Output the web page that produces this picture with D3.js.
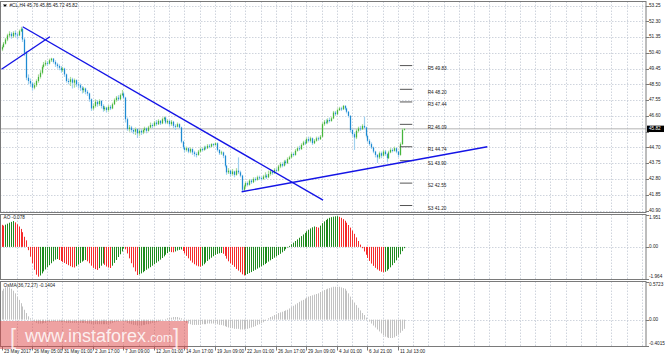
<!DOCTYPE html>
<html><head><meta charset="utf-8">
<script src="https://cdn.jsdelivr.net/npm/d3@7"></script>
<style>body{margin:0;background:#fff}svg{display:block}text{font-family:"Liberation Sans",Arial,sans-serif}</style>
</head><body><svg id="c" width="665" height="356"></svg>
<script>
const titleText = "#CL,H4 45.76 45.85 45.72 45.82";
const aoLabel = "AO -0.078";
const osmaLabel = "OsMA(36,72,27) -0.1404";
const firstOpen = 50.60;
const closes = [50.75,50.95,51.20,51.45,51.55,51.40,51.60,51.50,51.45,51.70,
51.85,51.20,50.40,48.90,48.70,48.55,48.30,48.45,48.70,48.95,
49.20,49.55,49.70,49.80,49.75,49.95,50.05,49.85,49.70,49.60,
49.50,49.35,49.45,49.10,48.70,48.65,48.80,48.60,48.75,48.50,
48.45,48.30,48.15,48.25,48.05,47.95,47.60,47.05,47.20,47.45,
47.30,47.50,47.20,47.00,47.10,46.95,47.15,47.05,47.30,47.55,
47.70,47.60,47.85,47.95,47.70,46.40,45.80,45.90,45.75,45.65,
45.80,45.55,45.70,45.60,45.75,45.85,45.70,45.90,46.05,46.00,
46.20,46.10,46.30,46.15,46.40,46.50,46.20,46.30,46.10,46.25,
46.00,45.95,46.10,45.90,45.05,44.70,44.55,44.65,44.45,44.60,
44.40,44.30,44.25,44.45,44.60,44.55,44.70,44.65,44.80,44.75,
44.90,44.85,44.95,44.55,44.35,44.40,44.20,43.60,43.20,43.30,
43.10,43.25,43.05,43.30,43.20,43.00,42.15,42.35,42.55,42.45,
42.70,42.60,42.80,42.75,42.90,42.85,42.80,42.95,43.00,42.90,
43.10,43.25,43.15,43.35,43.30,43.55,43.70,43.60,43.85,43.75,
44.00,44.10,44.30,44.25,44.50,44.65,44.60,44.85,45.00,44.95,
45.20,45.10,45.25,44.95,45.10,45.25,45.20,45.35,46.10,46.25,
46.20,46.35,46.30,46.45,46.80,46.70,46.95,47.05,47.00,47.20,
47.05,46.85,46.60,45.75,45.50,45.30,45.70,45.85,45.80,46.00,
45.90,45.40,45.10,44.90,44.70,44.45,44.25,44.10,44.35,44.20,
44.45,44.30,44.05,44.40,44.55,44.50,44.65,44.45,44.25,44.90,
45.76,45.82];
const highs = [50.85,51.05,51.30,51.55,51.70,51.65,51.70,51.75,51.60,51.80,
51.97,51.90,51.30,50.50,49.10,48.85,48.65,48.60,48.80,49.10,
49.35,49.65,49.85,49.95,49.90,50.05,50.10,50.08,49.95,49.80,
49.70,49.60,49.55,49.50,49.15,48.85,48.95,48.90,48.85,48.80,
48.65,48.55,48.40,48.35,48.30,48.15,48.00,47.65,47.35,47.60,
47.55,47.60,47.55,47.30,47.20,47.15,47.25,47.25,47.40,47.65,
47.80,47.85,47.95,48.16,48.05,47.75,46.50,46.05,46.00,45.85,
45.90,45.85,45.80,45.80,45.85,45.95,45.90,46.00,46.20,46.15,
46.30,46.35,46.40,46.35,46.50,46.56,46.55,46.40,46.35,46.35,
46.30,46.10,46.20,46.15,45.95,45.10,44.80,44.75,44.70,44.70,
44.65,44.50,44.40,44.55,44.70,44.70,44.80,44.80,44.90,44.90,
44.95,44.95,45.00,45.00,44.60,44.50,44.45,44.25,43.65,43.45,
43.35,43.40,43.30,43.45,44.10,43.30,43.05,42.45,42.65,42.65,
42.80,42.80,42.90,42.90,43.00,43.00,42.95,43.05,43.20,43.10,
43.30,43.40,43.35,43.45,43.45,43.65,43.80,43.80,43.95,43.95,
44.10,44.20,44.40,44.40,44.60,44.75,44.80,44.95,45.10,45.15,
45.30,45.35,45.35,45.30,45.20,45.35,45.35,45.45,46.20,46.35,
46.40,46.45,46.50,46.55,46.90,46.90,47.05,47.15,47.15,47.26,
47.25,47.10,46.90,46.65,45.85,45.60,45.80,45.95,46.00,46.10,
46.56,45.95,45.45,45.20,45.00,44.75,44.50,44.30,44.45,44.45,
44.55,44.55,44.35,44.50,44.65,44.65,44.75,44.70,44.50,45.00,
45.85,45.85];
const lows = [50.50,50.70,50.90,51.10,51.35,51.25,51.30,51.35,51.20,51.40,
51.65,51.05,50.20,48.75,48.50,48.35,48.12,48.20,48.35,48.60,
48.85,49.10,49.45,49.60,49.60,49.70,49.85,49.75,49.55,49.45,
49.35,49.20,49.25,48.95,48.60,48.50,48.40,48.25,48.30,48.35,
48.25,48.10,47.95,48.00,47.90,47.80,47.45,46.90,46.95,47.10,
47.15,47.20,47.05,46.85,46.90,46.80,46.85,46.95,47.00,47.25,
47.45,47.50,47.55,47.80,47.60,46.20,45.70,45.65,45.60,45.50,
45.45,45.27,45.40,45.45,45.50,45.65,45.55,45.65,45.85,45.85,
45.95,46.00,46.05,46.05,46.10,46.30,46.10,46.10,45.95,46.00,
45.85,45.75,45.90,45.80,44.95,44.60,44.40,44.45,44.35,44.35,
44.25,44.15,44.10,44.20,44.40,44.45,44.50,44.55,44.60,44.65,
44.70,44.75,44.80,44.45,44.25,44.25,44.05,43.50,43.05,43.10,
42.95,43.00,42.90,43.00,43.10,42.90,42.03,42.05,42.25,42.35,
42.40,42.50,42.55,42.65,42.70,42.75,42.70,42.75,42.85,42.80,
42.85,43.00,43.05,43.10,43.20,43.25,43.45,43.50,43.55,43.65,
43.70,43.95,44.05,44.15,44.20,44.45,44.50,44.55,44.80,44.85,
44.90,45.00,45.00,44.85,44.90,45.05,45.10,45.15,45.30,46.00,
46.10,46.10,46.20,46.25,46.40,46.60,46.65,46.90,46.90,46.95,
46.95,46.75,46.50,45.60,45.35,44.55,45.20,45.60,45.70,45.75,
45.80,45.30,45.00,44.80,44.60,44.35,44.10,43.77,44.00,44.05,
44.15,44.20,43.80,44.00,44.35,44.40,44.45,44.35,44.10,44.20,
44.85,45.72];
const aoValues = [1.35,1.30,1.36,1.42,1.48,1.53,1.58,1.50,1.38,1.25,
1.10,0.90,0.62,0.40,-0.20,-0.60,-1.00,-1.40,-1.70,-1.82,
-1.75,-1.62,-1.50,-1.38,-1.25,-1.12,-1.00,-0.88,-0.78,-0.74,
-0.80,-0.86,-0.92,-0.98,-1.05,-1.12,-1.18,-1.24,-1.26,-1.18,
-1.08,-0.98,-0.90,-0.84,-0.80,-0.88,-1.00,-1.15,-1.28,-1.36,
-1.41,-1.30,-1.15,-1.02,-1.10,-1.20,-1.26,-1.29,-1.15,-0.98,
-0.80,-0.62,-0.45,-0.28,-0.10,-0.15,-0.40,-0.70,-1.00,-1.25,
-1.50,-1.72,-1.68,-1.62,-1.55,-1.48,-1.40,-1.32,-1.24,-1.15,
-1.06,-0.97,-0.88,-0.78,-0.68,-0.58,-0.48,-0.38,-0.29,-0.32,
-0.33,-0.28,-0.22,-0.18,-0.16,-0.25,-0.40,-0.55,-0.70,-0.84,
-0.96,-1.06,-1.14,-1.19,-1.21,-1.15,-1.06,-0.96,-0.86,-0.76,
-0.66,-0.57,-0.49,-0.43,-0.39,-0.37,-0.42,-0.55,-0.72,-0.88,
-1.00,-1.10,-1.22,-1.35,-1.45,-1.55,-1.68,-1.75,-1.72,-1.66,
-1.60,-1.54,-1.47,-1.40,-1.33,-1.26,-1.19,-1.12,-1.05,-0.98,
-0.90,-0.82,-0.74,-0.66,-0.58,-0.50,-0.42,-0.33,-0.24,-0.14,
-0.04,0.06,0.16,0.26,0.36,0.46,0.56,0.66,0.76,0.86,
0.96,1.05,1.13,1.20,1.25,1.22,1.18,1.30,1.45,1.56,
1.65,1.72,1.78,1.82,1.85,1.87,1.88,1.84,1.78,1.70,
1.60,1.48,1.34,1.18,1.00,0.80,0.58,0.36,0.14,-0.08,
-0.28,-0.48,-0.68,-0.86,-1.02,-1.16,-1.28,-1.38,-1.46,-1.52,
-1.55,-1.52,-1.45,-1.36,-1.25,-1.12,-0.98,-0.82,-0.65,-0.45,
-0.26,-0.078];
const osmaValues = [0.44,0.47,0.49,0.50,0.49,0.47,0.44,0.40,0.35,0.30,
0.25,0.20,0.15,0.10,0.05,0.02,-0.01,-0.03,-0.05,-0.06,
-0.06,-0.06,-0.05,-0.05,-0.04,-0.04,-0.03,-0.03,-0.03,-0.03,
-0.03,-0.04,-0.04,-0.04,-0.05,-0.05,-0.05,-0.05,-0.05,-0.05,
-0.05,-0.05,-0.05,-0.05,-0.05,-0.06,-0.06,-0.07,-0.07,-0.07,
-0.07,-0.07,-0.07,-0.07,-0.07,-0.07,-0.06,-0.06,-0.05,-0.04,
-0.03,-0.03,-0.02,-0.02,-0.02,-0.03,-0.05,-0.06,-0.07,-0.08,
-0.08,-0.09,-0.09,-0.09,-0.08,-0.08,-0.07,-0.07,-0.06,-0.05,
-0.05,-0.04,-0.03,-0.02,-0.01,0.00,0.01,0.02,0.03,0.03,
0.04,0.04,0.04,0.03,0.02,-0.01,-0.03,-0.05,-0.06,-0.07,
-0.08,-0.08,-0.08,-0.08,-0.08,-0.07,-0.07,-0.07,-0.06,-0.06,
-0.06,-0.06,-0.06,-0.07,-0.08,-0.08,-0.09,-0.10,-0.11,-0.12,
-0.13,-0.13,-0.14,-0.14,-0.14,-0.15,-0.15,-0.15,-0.14,-0.14,
-0.13,-0.12,-0.11,-0.10,-0.08,-0.07,-0.05,-0.04,-0.02,0.00,
0.02,0.04,0.05,0.07,0.08,0.10,0.11,0.12,0.13,0.14,
0.15,0.17,0.19,0.21,0.23,0.25,0.27,0.29,0.30,0.32,
0.33,0.35,0.36,0.37,0.38,0.39,0.40,0.42,0.43,0.45,
0.46,0.47,0.48,0.49,0.50,0.50,0.50,0.50,0.49,0.48,
0.47,0.44,0.40,0.35,0.30,0.26,0.22,0.18,0.14,0.10,
0.07,0.03,0.00,-0.03,-0.06,-0.09,-0.12,-0.15,-0.18,-0.21,
-0.24,-0.26,-0.27,-0.28,-0.28,-0.28,-0.27,-0.25,-0.23,-0.20,
-0.17,-0.14];
const priceTicks = [53.25,52.30,51.35,50.40,49.45,48.50,47.55,46.60,45.65,44.70,43.75,42.80,41.85,40.90];
const hiddenPriceLabels = [45.65];
const currentPrice = 45.82;
const aoTicks = [1.951,0,-1.964];
const aoTickLabels = ["1.951","0.00","-1.964"];
const osmaTicks = [0.5723,0,-0.4015];
const osmaTickLabels = ["0.5723","0.00","-0.4015"];
const timeLabels = ["23 May 2017","26 May 05:00","31 May 01:00","2 Jun 17:00","7 Jun 09:00","12 Jun 01:00","14 Jun 17:00","19 Jun 09:00","22 Jun 01:00","26 Jun 17:00","29 Jun 09:00","4 Jul 01:00","6 Jul 21:00","11 Jul 13:00"];
const timeLabelBars = [0,16,32,48,64,80,96,112,128,144,160,176,192,208];
const pivotNames = ["R5","R4","R3","R2","R1","S1","S2","S3"];
const pivotValues = [49.63,48.20,47.44,46.09,44.74,43.90,42.55,41.20];
const pivotLabels = ["49.83","48.20","47.44","46.09","44.74","43.90","42.55","41.20"];
const trendLines = [
  [[11.1,51.97],[168.7,41.53]],
  [[0,49.41],[25.4,51.37]],
  [[126,42.03],[254.9,44.74]]
];

const svg = d3.select("#c");
const R = 646;
const x = d3.scaleLinear().domain([0,338]).range([1.5,1.5+338*1.906]);
const y = d3.scaleLinear().domain([40.90,53.25]).range([210.5,5.5]);
const ay = d3.scaleLinear().domain([-1.964,1.951]).range([279,215]);
const oy = d3.scaleLinear().domain([-0.4015,0.5723]).range([346,282]);
const px = i => Math.round(x(i)) + 0.5;
const gridC = "#c3c9d4", frameC = "#7a7a7a", txtC = "#222";
const FS = 4.7;

svg.append("rect").attr("width",665).attr("height",356).attr("fill","#fff");

const panels = [[1.5,212.5],[214.5,279.5],[281.5,346.5]];
for (let b = 8; b * 1.906 + 1.5 < R - 2; b += 8) {
  panels.forEach(([t,bt]) => svg.append("line").attr("x1",px(b)).attr("x2",px(b)).attr("y1",t).attr("y2",bt)
    .attr("stroke",gridC).attr("stroke-dasharray","1.5,1.5").attr("stroke-width",0.8));
}
priceTicks.forEach(p => svg.append("line").attr("x1",0).attr("x2",R).attr("y1",Math.round(y(p))+0.5).attr("y2",Math.round(y(p))+0.5)
  .attr("stroke",gridC).attr("stroke-dasharray","1.5,1.5").attr("stroke-width",0.8));
[[ay,0],[oy,0]].forEach(([s,v]) => svg.append("line").attr("x1",0).attr("x2",R).attr("y1",Math.round(s(v))+0.5).attr("y2",Math.round(s(v))+0.5)
  .attr("stroke",gridC).attr("stroke-dasharray","1.5,1.5").attr("stroke-width",0.8));

svg.append("line").attr("x1",0).attr("x2",R).attr("y1",y(currentPrice)).attr("y2",y(currentPrice)).attr("stroke","#b4b4b4").attr("stroke-width",1);

const opens = closes.map((c,i) => i === 0 ? firstOpen : closes[i-1]);
const cg = svg.append("g");
closes.forEach((c,i) => {
  const o = opens[i], up = c >= o;
  cg.append("line").attr("x1",px(i)).attr("x2",px(i)).attr("y1",y(highs[i])).attr("y2",y(lows[i]))
    .attr("stroke", up ? "#a9dc9c" : "#9fd0ee").attr("stroke-width",1.2);
  let y1 = y(Math.max(o,c)), y2 = y(Math.min(o,c));
  if (y2 - y1 < 1) { y2 = y1 + 1; }
  cg.append("line").attr("x1",px(i)).attr("x2",px(i)).attr("y1",y1).attr("y2",y2)
    .attr("stroke", up ? "#45b53c" : "#1f8ad2").attr("stroke-width",1.2);
});

pivotValues.forEach((p,k) => {
  svg.append("line").attr("x1",x(209)).attr("x2",x(215.5)).attr("y1",y(p)).attr("y2",y(p)).attr("stroke","#555").attr("stroke-width",1);
  svg.append("text").attr("x",x(223.6)).attr("y",y(p)+3).attr("dominant-baseline","middle").attr("font-size",FS).attr("fill",txtC)
    .text(pivotNames[k] + " " + pivotLabels[k]);
});

trendLines.forEach(l => svg.append("line").attr("x1",x(l[0][0])).attr("y1",y(l[0][1])).attr("x2",x(l[1][0])).attr("y2",y(l[1][1]))
  .attr("stroke","#1414e6").attr("stroke-width",1.4));

aoValues.forEach((v,i) => {
  const green = i > 0 && v > aoValues[i-1];
  svg.append("line").attr("x1",px(i)).attr("x2",px(i)).attr("y1",ay(0)).attr("y2",ay(v))
    .attr("stroke", green ? "#1f8a1f" : "#f52a2a").attr("stroke-width",1.05);
});
osmaValues.forEach((v,i) => {
  svg.append("line").attr("x1",px(i)).attr("x2",px(i)).attr("y1",oy(0)).attr("y2",oy(v))
    .attr("stroke","#c2c2c2").attr("stroke-width",1.05);
});

panels.forEach(([t,bt]) => svg.append("rect").attr("x",0.5).attr("y",t).attr("width",R-0.5).attr("height",bt-t)
  .attr("fill","none").attr("stroke",frameC).attr("stroke-width",1));

function axisLabels(vals, labels, s, t, bt, hidden) {
  vals.forEach((v,k) => {
    const yy = Math.max(t+2.5, Math.min(bt-2.5, s(v)));
    svg.append("line").attr("x1",R).attr("x2",R+3).attr("y1",Math.round(s(v))+0.5).attr("y2",Math.round(s(v))+0.5).attr("stroke",frameC);
    if (hidden && hidden.includes(v)) return;
    svg.append("text").attr("x",R+3).attr("y",yy).attr("dominant-baseline","middle").attr("font-size",FS).attr("fill",txtC).text(labels[k]);
  });
}
axisLabels(priceTicks, priceTicks.map(d => d.toFixed(2)), y, 2, 213, hiddenPriceLabels);
axisLabels(aoTicks, aoTickLabels, ay, 215, 279);
axisLabels(osmaTicks, osmaTickLabels, oy, 282, 346);

svg.append("rect").attr("x",R+1).attr("y",y(currentPrice)-3.2).attr("width",17).attr("height",6.4).attr("fill","#000");
svg.append("text").attr("x",R+3).attr("y",y(currentPrice)).attr("dominant-baseline","middle").attr("font-size",FS).attr("fill","#fff").text(currentPrice.toFixed(2));

timeLabelBars.forEach((b,k) => {
  svg.append("line").attr("x1",px(b)).attr("x2",px(b)).attr("y1",346.5).attr("y2",350.5).attr("stroke",frameC);
  svg.append("text").attr("x",px(b)+1.5).attr("y",351.5).attr("dominant-baseline","middle").attr("font-size",FS).attr("fill",txtC).text(timeLabels[k]);
});

svg.append("path").attr("d","M3,4.5 L7,4.5 L5,7 Z").attr("fill","#000");
svg.append("text").attr("x",9.5).attr("y",6).attr("dominant-baseline","middle").attr("font-size",FS).attr("fill",txtC).text(titleText);
svg.append("text").attr("x",3.5).attr("y",218).attr("dominant-baseline","middle").attr("font-size",FS).attr("fill",txtC).text(aoLabel);
svg.append("text").attr("x",3.5).attr("y",285.5).attr("dominant-baseline","middle").attr("font-size",FS).attr("fill",txtC).text(osmaLabel);

const wm = svg.append("g");
wm.append("rect").attr("x",0).attr("y",321).attr("width",188).attr("height",28).attr("fill","rgba(222,70,70,0.5)");
wm.append("text").attr("x",10).attr("y",344).attr("font-size",22).attr("font-weight",300).attr("fill","rgba(255,255,255,0.8)").text("[");
wm.append("text").attr("x",25).attr("y",341.5).attr("font-size",18).attr("fill","rgba(255,255,255,0.85)").text("www.instaforex");
wm.append("text").attr("x",147).attr("y",341.5).attr("font-size",12).attr("fill","rgba(255,255,255,0.85)").text(".com");
wm.append("text").attr("x",173).attr("y",344).attr("font-size",22).attr("fill","rgba(255,255,255,0.8)").text("]");
</script></body></html>
